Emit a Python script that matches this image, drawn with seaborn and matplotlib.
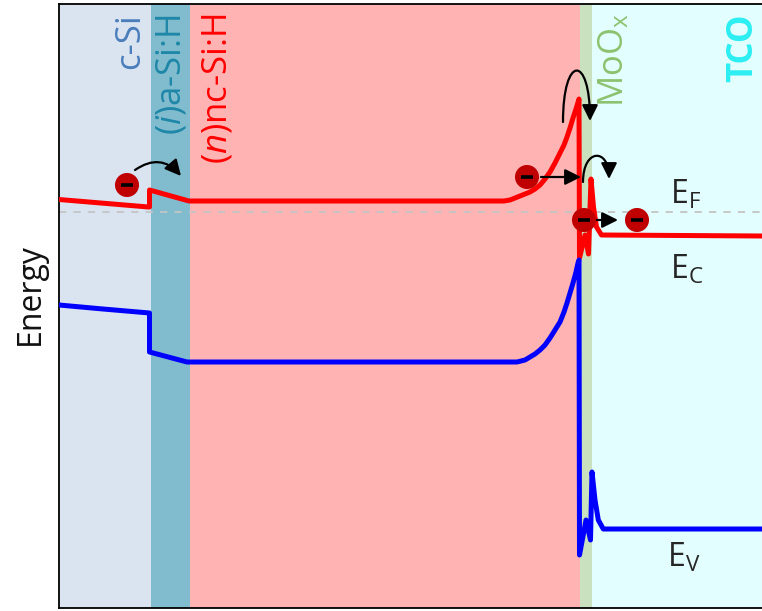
import numpy as np
import pandas as pd
import matplotlib
matplotlib.use("Agg")
import matplotlib.pyplot as plt
import matplotlib.transforms as mtransforms
from matplotlib.patches import FancyArrowPatch
from matplotlib.path import Path
import seaborn as sns

# ---- layer stack (position in a.u.) ----
layer_names = ["c-Si", "($\\mathit{i}$)a-Si:H", "($\\mathit{n}$)nc-Si:H", "MoO$_\\mathregular{x}$", "TCO"]
layer_edges = [0, 92, 130.5, 521, 533, 710]
layer_fill = ["#DAE3F0", "#80BCCE", "#FFB3B3", "#C9E1BF", "#E3FEFE"]
layer_text = ["#4A7EBB", "#1F87A8", "#FF0000", "#8CC26E", "#2CEEF2"]
layer_label_x = [71, 112, 159, 555, 684]

# ---- conduction band edge ----
ec_pos = [0, 89.5, 90.5, 90.5, 130, 445, 451, 456, 461, 466, 471, 476, 481, 486, 491, 496, 501, 505,
          508, 511, 514, 517, 520,
          520.5, 526, 529.5, 532, 534.5, 537.5, 542.5, 703]
ec_energy = [0.125, 0.05, 0.05, 0.22, 0.11, 0.11, 0.12, 0.14, 0.16, 0.18, 0.20, 0.23, 0.27, 0.33, 0.40, 0.49,
             0.59, 0.67, 0.75, 0.84, 0.94, 1.03, 1.13,
             -0.46, -0.23, -0.42, 0.33, 0.05, -0.15, -0.23, -0.24]

# ---- valence band edge ----
ev_pos = [0, 44, 90.5, 90.5, 128, 458, 466, 471, 476, 481, 486, 491, 496, 501, 505, 508, 511, 514, 517,
          519, 520,
          520.5, 527, 531.5, 533, 536, 539.3, 544.3, 703]
ev_energy = [-0.93, -0.97, -1.01, -1.40, -1.50, -1.50, -1.48, -1.45, -1.42, -1.38, -1.33, -1.26, -1.18,
             -1.10, -1.00, -0.91, -0.81, -0.71, -0.60, -0.51, -0.48,
             -3.43, -3.08, -3.28, -2.60, -2.88, -3.08, -3.17, -3.17]

# ---- Fermi level and electrons ----
fermi_level = 0.0
electron_pos = [68, 468, 525, 578]
electron_energy = [0.27, 0.35, -0.08, -0.08]

band_labels = ["$\\mathregular{E_F}$", "$\\mathregular{E_C}$", "$\\mathregular{E_V}$"]
band_label_pos = [611, 611, 608]
band_label_energy = [0.175, -0.575, -3.46]

sns.set_theme(style="white")
plt.rcParams["font.family"] = ["Open Sans", "DejaVu Sans"]
plt.rcParams["mathtext.fontset"] = "custom"
plt.rcParams["mathtext.rm"] = "Open Sans"
plt.rcParams["mathtext.it"] = "Open Sans:italic"

fig = plt.figure(figsize=(7.62, 6.11), dpi=100)
ax = fig.add_axes([59 / 762, 3 / 611, 703 / 762, 604 / 611])
ax.set_xlim(0, 703)
ax.set_ylim(-3.96, 2.08)

for i in range(len(layer_names)):
    ax.axvspan(layer_edges[i], layer_edges[i + 1], color=layer_fill[i], lw=0, zorder=0)

ax.axhline(fermi_level, color="#C4C4C4", lw=1.3, dashes=(4, 4), zorder=1)

ec = pd.DataFrame({"pos": ec_pos, "E": ec_energy})
ev = pd.DataFrame({"pos": ev_pos, "E": ev_energy})
sns.lineplot(data=ec, x="pos", y="E", sort=False, estimator=None, color="#FF0000", lw=3.6, ax=ax, zorder=3)
sns.lineplot(data=ev, x="pos", y="E", sort=False, estimator=None, color="#0000FF", lw=3.6, ax=ax, zorder=4)

# electron transport arrows
astyle = dict(arrowstyle="-|>", color="black", lw=1.6, mutation_scale=24)
ax.add_patch(FancyArrowPatch((76, 0.42), (122, 0.36), connectionstyle="arc3,rad=-0.45",
                             shrinkA=0, shrinkB=0, zorder=6, **astyle))
ax.annotate("", xy=(522, 0.35), xytext=(482, 0.35),
            arrowprops=dict(shrinkA=0, shrinkB=0, **astyle), zorder=6)
big_arc = Path([(504, 0.90), (504, 1.58), (531, 1.58), (531, 0.91)],
               [Path.MOVETO, Path.CURVE4, Path.CURVE4, Path.CURVE4])
ax.add_patch(FancyArrowPatch(path=big_arc, zorder=6, **astyle))
small_arc = Path([(524, 0.30), (524, 0.64), (550, 0.64), (550, 0.33)],
                 [Path.MOVETO, Path.CURVE4, Path.CURVE4, Path.CURVE4])
ax.add_patch(FancyArrowPatch(path=small_arc, zorder=6, **astyle))
ax.annotate("", xy=(559, -0.08), xytext=(535, -0.08),
            arrowprops=dict(shrinkA=0, shrinkB=0, **astyle), zorder=6)

el = pd.DataFrame({"pos": electron_pos, "E": electron_energy})
sns.scatterplot(data=el, x="pos", y="E", s=300, color="#C00000", edgecolor="none", ax=ax, zorder=7)
ax.plot(electron_pos, electron_energy, ls="none", marker="_", ms=8, mew=2.6, color="black", zorder=8)

# layer names
trans = mtransforms.blended_transform_factory(ax.transData, ax.transAxes)
for i, name in enumerate(layer_names):
    ax.text(layer_label_x[i], 0.984, name, transform=trans, rotation=90, ha="center", va="top",
            fontsize=25, color=layer_text[i], fontweight="bold" if name == "TCO" else "normal", zorder=9)

for lab, x, y in zip(band_labels, band_label_pos, band_label_energy):
    ax.text(x, y, lab, ha="left", va="center", fontsize=23, color="#262626", zorder=9)

ax.set_xticks([])
ax.set_yticks([])
ax.set_xlabel("")
ax.set_ylabel("Energy", fontsize=23, color="#111111")
ax.yaxis.set_label_coords(-0.017, 0.52)
for side in ["left", "top", "bottom"]:
    ax.spines[side].set_visible(True)
    ax.spines[side].set_color("black")
    ax.spines[side].set_linewidth(1.3)
ax.spines["right"].set_visible(False)

fig.savefig("out.png", dpi=100)
